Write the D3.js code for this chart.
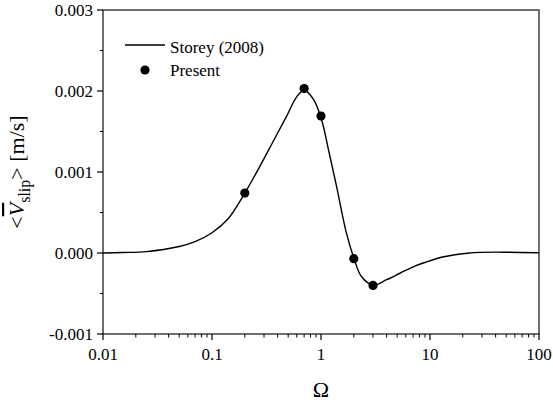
<!DOCTYPE html>
<html>
<head>
<meta charset="utf-8">
<script src="https://cdn.jsdelivr.net/npm/d3@7"></script>
<style>
  body { margin: 0; background: #fff; }
  svg text { font-family: "Liberation Serif", "DejaVu Serif", "Times New Roman", Times, serif; }
</style>
</head>
<body>
<div id="chart"></div>
<script>
// Storey (2008) curve
const curveOmega = [0.01, 0.015, 0.025, 0.05, 0.07, 0.1, 0.14, 0.2, 0.275, 0.365, 0.48, 0.6, 0.7, 0.85, 1.0, 1.2, 1.4, 1.7, 2.0, 2.35, 3.0, 4.0, 5.3, 7.0, 9.3, 13, 16.4, 22, 29, 50, 100];
const curveV = [0, 0.000006, 0.000017, 0.00008, 0.00014, 0.00025, 0.00042, 0.00074, 0.00107, 0.00138, 0.00168, 0.00193, 0.00201, 0.0019, 0.00167, 0.00121, 0.0008, 0.00026, -0.00006, -0.00029, -0.000395, -0.00033, -0.00025, -0.00017, -0.00011, -0.00005, -0.000025, -0.000003, 0.000008, 0.00001, 0.000004];

// Present results
const presentOmega = [0.2, 0.7, 1.0, 2.0, 3.0];
const presentV = [0.00074, 0.00203, 0.00169, -0.00007, -0.0004];

const xTicks = [0.01, 0.1, 1, 10, 100];
const xTickLabels = ["0.01", "0.1", "1", "10", "100"];
const yTicks = [-0.001, 0, 0.001, 0.002, 0.003];
const yTickLabels = ["-0.001", "0.000", "0.001", "0.002", "0.003"];

const width = 553, height = 402;
const margin = { top: 10, right: 14, bottom: 68, left: 103 };

const svg = d3.select("#chart").append("svg")
    .attr("width", width)
    .attr("height", height);

const x = d3.scaleLog().domain([0.01, 100]).range([margin.left, width - margin.right]);
const y = d3.scaleLinear().domain([-0.001, 0.003]).range([height - margin.bottom, margin.top]);

// frame
svg.append("rect")
    .attr("x", x(0.01)).attr("y", y(0.003))
    .attr("width", x(100) - x(0.01)).attr("height", y(-0.001) - y(0.003))
    .attr("fill", "none").attr("stroke", "#222").attr("stroke-width", 1.3);

// x axis: major + minor ticks
const minorX = [];
for (let d = 0.01; d < 99; d *= 10) {
    for (let k = 2; k <= 9; k++) minorX.push(d * k);
}
const xAxis = svg.append("g").attr("transform", `translate(0,${y(-0.001)})`);
xAxis.selectAll(".minor").data(minorX).enter().append("line")
    .attr("x1", d => x(d)).attr("x2", d => x(d))
    .attr("y1", 0).attr("y2", 3.5)
    .attr("stroke", "#000").attr("stroke-width", 1);
xAxis.selectAll(".major").data(xTicks).enter().append("line")
    .attr("x1", d => x(d)).attr("x2", d => x(d))
    .attr("y1", 0).attr("y2", 6)
    .attr("stroke", "#000").attr("stroke-width", 1.2);
xAxis.selectAll("text").data(xTicks).enter().append("text")
    .attr("x", d => x(d)).attr("y", 26)
    .attr("text-anchor", "middle")
    .style("font-size", "17px")
    .text((d, i) => xTickLabels[i]);

// y axis
const minorY = [-0.0005, 0.0005, 0.0015, 0.0025];
const yAxis = svg.append("g").attr("transform", `translate(${x(0.01)},0)`);
yAxis.selectAll(".minor").data(minorY).enter().append("line")
    .attr("x1", -3).attr("x2", 0)
    .attr("y1", d => y(d)).attr("y2", d => y(d))
    .attr("stroke", "#000").attr("stroke-width", 1);
yAxis.selectAll(".major").data(yTicks).enter().append("line")
    .attr("x1", -6).attr("x2", 0)
    .attr("y1", d => y(d)).attr("y2", d => y(d))
    .attr("stroke", "#000").attr("stroke-width", 1.2);
yAxis.selectAll("text").data(yTicks).enter().append("text")
    .attr("x", -10).attr("y", d => y(d))
    .attr("dy", "0.35em")
    .attr("text-anchor", "end")
    .style("font-size", "17px")
    .text((d, i) => yTickLabels[i]);

// axis titles
svg.append("text")
    .attr("x", (x(0.01) + x(100)) / 2).attr("y", 397)
    .attr("text-anchor", "middle")
    .style("font-size", "22px")
    .text("Ω");

const yTitle = svg.append("text")
    .attr("transform", `translate(24,${(y(-0.001) + y(0.003)) / 2}) rotate(-90)`)
    .attr("text-anchor", "middle")
    .style("font-size", "22px");
yTitle.append("tspan").text("<");
yTitle.append("tspan").style("font-style", "italic").style("text-decoration", "overline").text("V");
yTitle.append("tspan").attr("dy", 6).style("font-size", "16px").text("slip");
yTitle.append("tspan").attr("dy", -6).text("> [m/s]");

// curve
const curveData = curveOmega.map((o, i) => ({ o: o, v: curveV[i] }));
const line = d3.line()
    .x(d => x(d.o))
    .y(d => y(d.v))
    .curve(d3.curveCatmullRom.alpha(0.5));
svg.append("path")
    .datum(curveData)
    .attr("d", line)
    .attr("fill", "none")
    .attr("stroke", "#000")
    .attr("stroke-width", 1.4);

// points
svg.append("g").selectAll("circle")
    .data(presentOmega.map((o, i) => ({ o: o, v: presentV[i] })))
    .enter().append("circle")
    .attr("cx", d => x(d.o))
    .attr("cy", d => y(d.v))
    .attr("r", 4.6)
    .attr("fill", "#000");

// legend
const legend = svg.append("g");
legend.append("line")
    .attr("x1", 125).attr("x2", 165).attr("y1", 45).attr("y2", 45)
    .attr("stroke", "#000").attr("stroke-width", 1.4);
legend.append("text").attr("x", 170).attr("y", 53)
    .style("font-size", "17px").text("Storey (2008)");
legend.append("circle").attr("cx", 145).attr("cy", 70).attr("r", 4.6).attr("fill", "#000");
legend.append("text").attr("x", 170).attr("y", 76)
    .style("font-size", "17px").text("Present");
</script>
</body>
</html>
